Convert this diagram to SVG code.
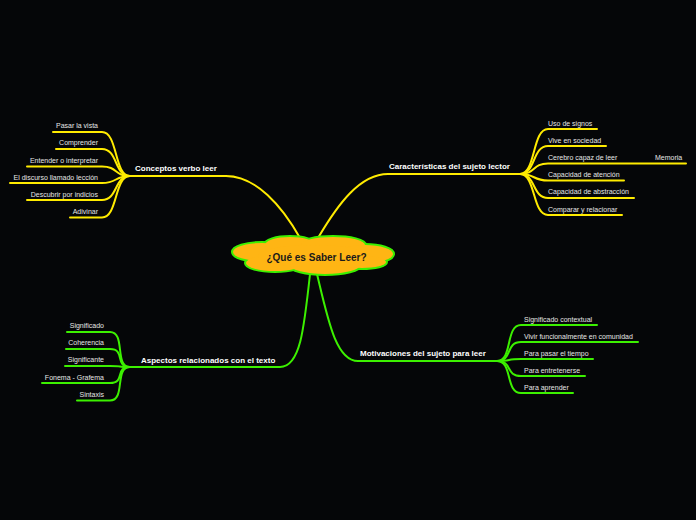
<svg xmlns="http://www.w3.org/2000/svg" width="696" height="520" viewBox="0 0 696 520">
<defs>
<style>
.y{fill:none;stroke:#ffeb00;stroke-width:2;stroke-linecap:round}
.g{fill:none;stroke:#3cf000;stroke-width:2;stroke-linecap:round}
.lf{font-family:"Liberation Sans",Arial,sans-serif;font-size:7px;fill:#e6e6e6}
.lb{font-family:"Liberation Sans",Arial,sans-serif;font-size:8px;font-weight:bold;fill:#ffffff}
.cs{fill:none;stroke:#3cf000;stroke-width:4}
.cf{fill:#ffb514;stroke:none}
</style>
</defs>
<rect width="696" height="520" fill="#050608"/>
<g id="connectors">
<path class="y" d="M300 238 C282 206 256 176 226 176 L130 176"/>
<path class="y" d="M318 238 C338 204 360 174 388 174 L520 174"/>
<path class="g" d="M310 274 C304 330 300 367 280 367 L130 367"/>
<path class="g" d="M317 274 C328 320 336 361 358 361 L497 361"/>
<!-- Conceptos leaves -->
<path class="y" d="M130 176 C114 176 118 132 102 132 L53 132"/>
<path class="y" d="M130 176 C114 176 118 149 102 149 L56 149"/>
<path class="y" d="M130 176 C114 176 118 166.5 102 166.5 L27 166.5"/>
<path class="y" d="M130 176 C114 176 118 183 102 183 L10 183"/>
<path class="y" d="M130 176 C114 176 118 200 102 200 L27 200"/>
<path class="y" d="M130 176 C114 176 118 217.5 102 217.5 L70 217.5"/>
<!-- Caracteristicas leaves -->
<path class="y" d="M520 174 C536 174 532 129 548 129 L597 129"/>
<path class="y" d="M520 174 C536 174 532 146 548 146 L606 146"/>
<path class="y" d="M520 174 C536 174 532 163.5 548 163.5 L686 163.5"/>
<path class="y" d="M520 174 C536 174 532 180.5 548 180.5 L624 180.5"/>
<path class="y" d="M520 174 C536 174 532 198 548 198 L634 198"/>
<path class="y" d="M520 174 C536 174 532 215 548 215 L622 215"/>
<!-- Aspectos leaves -->
<path class="g" d="M130 367 C114 367 126 332 110 332 L67 332"/>
<path class="g" d="M130 367 C114 367 126 349 110 349 L66 349"/>
<path class="g" d="M130 367 C114 367 126 366 110 366 L65 366"/>
<path class="g" d="M130 367 C114 367 126 383 110 383 L42 383"/>
<path class="g" d="M130 367 C114 367 126 400.5 110 400.5 L77 400.5"/>
<!-- Motivaciones leaves -->
<path class="g" d="M497 361 C513 361 505 325 521 325 L597 325"/>
<path class="g" d="M497 361 C513 361 505 342 521 342 L638 342"/>
<path class="g" d="M497 361 C513 361 505 359 521 359 L593 359"/>
<path class="g" d="M497 361 C513 361 505 376 521 376 L585 376"/>
<path class="g" d="M497 361 C513 361 505 393 521 393 L573 393"/>
</g>
<g id="center">
<g class="cs">
<ellipse cx="262" cy="252" rx="29" ry="9"/>
<ellipse cx="290" cy="245" rx="25" ry="8"/>
<ellipse cx="333" cy="245" rx="32" ry="8"/>
<ellipse cx="365" cy="254" rx="28" ry="9"/>
<ellipse cx="275" cy="263" rx="29" ry="8"/>
<ellipse cx="325" cy="265" rx="35" ry="9"/>
<ellipse cx="362" cy="262" rx="24" ry="6"/>
</g>
<g class="cf">
<ellipse cx="262" cy="252" rx="29" ry="9"/>
<ellipse cx="290" cy="245" rx="25" ry="8"/>
<ellipse cx="333" cy="245" rx="32" ry="8"/>
<ellipse cx="365" cy="254" rx="28" ry="9"/>
<ellipse cx="275" cy="263" rx="29" ry="8"/>
<ellipse cx="325" cy="265" rx="35" ry="9"/>
<ellipse cx="362" cy="262" rx="24" ry="6"/>
<ellipse cx="313" cy="256" rx="55" ry="11"/>
</g>
<text x="316.5" y="261" text-anchor="middle" font-family="Liberation Sans, Arial, sans-serif" font-size="10" font-weight="bold" fill="#1a1a1a">¿Qué es Saber Leer?</text>
</g>
<g id="conceptos">
<text class="lb" x="135" y="171">Conceptos verbo leer</text>
<text class="lf" x="98" y="128" text-anchor="end">Pasar la vista</text>
<text class="lf" x="98" y="145" text-anchor="end">Comprender</text>
<text class="lf" x="98" y="162.5" text-anchor="end">Entender o interpretar</text>
<text class="lf" x="98" y="179.5" text-anchor="end">El discurso llamado lección</text>
<text class="lf" x="98" y="196.5" text-anchor="end">Descubrir por indicios</text>
<text class="lf" x="98" y="213.5" text-anchor="end">Adivinar</text>
</g>
<g id="caracteristicas">
<text class="lb" x="389" y="169">Características del sujeto lector</text>
<text class="lf" x="548" y="126">Uso de signos</text>
<text class="lf" x="548" y="143">Vive en sociedad</text>
<text class="lf" x="548" y="160">Cerebro capaz de leer</text>
<text class="lf" x="655" y="160">Memoria</text>
<text class="lf" x="548" y="177">Capacidad de atención</text>
<text class="lf" x="548" y="194">Capacidad de abstracción</text>
<text class="lf" x="548" y="212">Comparar y relacionar</text>
</g>
<g id="aspectos">
<text class="lb" x="141" y="363">Aspectos relacionados con el texto</text>
<text class="lf" x="104" y="328" text-anchor="end">Significado</text>
<text class="lf" x="104" y="345" text-anchor="end">Coherencia</text>
<text class="lf" x="104" y="362" text-anchor="end">Significante</text>
<text class="lf" x="104" y="380" text-anchor="end">Fonema - Grafema</text>
<text class="lf" x="104" y="397" text-anchor="end">Sintaxis</text>
</g>
<g id="motivaciones">
<text class="lb" x="360" y="356">Motivaciones del sujeto para leer</text>
<text class="lf" x="524" y="322">Significado contextual</text>
<text class="lf" x="524" y="339">Vivir funcionalmente en comunidad</text>
<text class="lf" x="524" y="356">Para pasar el tiempo</text>
<text class="lf" x="524" y="373">Para entretenerse</text>
<text class="lf" x="524" y="390">Para aprender</text>
</g>
</svg>
